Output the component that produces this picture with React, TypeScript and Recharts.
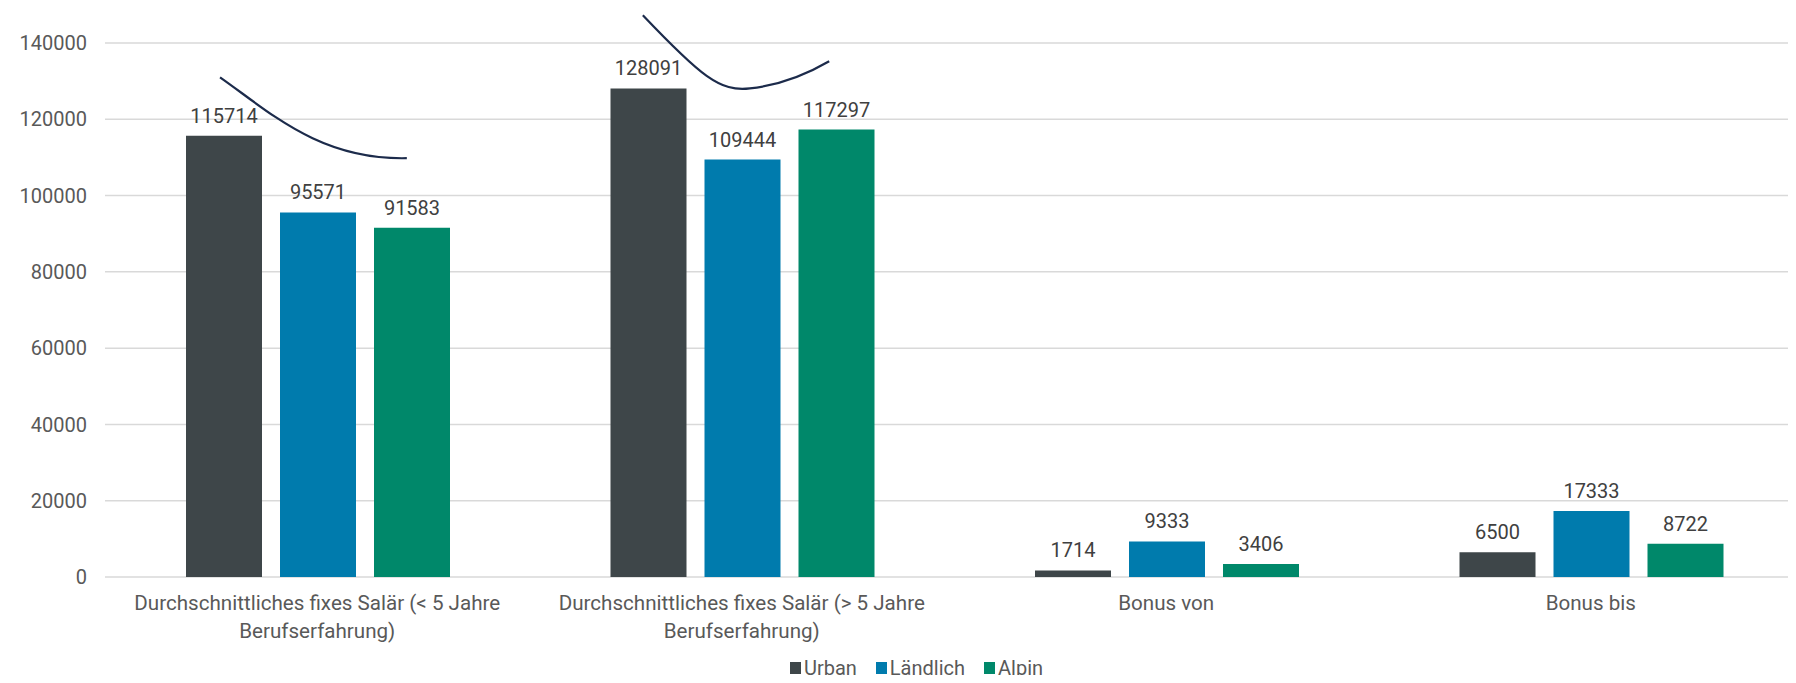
import React from "react";
import {
  Bar,
  BarChart,
  CartesianGrid,
  LabelList,
  Legend,
  XAxis,
  YAxis,
} from "recharts";

const categories = [
  "Durchschnittliches fixes Salär (< 5 Jahre Berufserfahrung)",
  "Durchschnittliches fixes Salär (> 5 Jahre Berufserfahrung)",
  "Bonus von",
  "Bonus bis",
];
const tickLines = [
  ["Durchschnittliches fixes Salär (< 5 Jahre", "Berufserfahrung)"],
  ["Durchschnittliches fixes Salär (> 5 Jahre", "Berufserfahrung)"],
  ["Bonus von"],
  ["Bonus bis"],
];
const urban = [115714, 128091, 1714, 6500];
const laendlich = [95571, 109444, 9333, 17333];
const alpin = [91583, 117297, 3406, 8722];
const yTicks = [0, 20000, 40000, 60000, 80000, 100000, 120000, 140000];

// hand-drawn swooshes over the first two groups: [band units from left, value]
const swooshA = [
  [0.271, 131000],
  [0.389, 121800],
  [0.506, 109300],
  [0.711, 109800],
];
const swooshB = [
  [1.267, 147300],
  [1.402, 131500],
  [1.449, 127100],
  [1.519, 128100],
  [1.59, 128900],
  [1.649, 131500],
  [1.706, 135200],
];

const series = [
  { key: "urban", name: "Urban", color: "#3E4649" },
  { key: "laendlich", name: "Ländlich", color: "#007BAD" },
  { key: "alpin", name: "Alpin", color: "#00886A" },
];

const data = categories.map((name, i) => ({
  name,
  urban: urban[i],
  laendlich: laendlich[i],
  alpin: alpin[i],
}));

const CHART_W = 1810;
const CHART_H = 683;
const MARGIN = { top: 43, right: 7, left: 0, bottom: 0 };
const Y_W = 105;
const X_H = 76;
const LEGEND_H = 30;
const Y_MAX = 140000;

const plotLeft = MARGIN.left + Y_W;
const plotTop = MARGIN.top;
const plotW = CHART_W - MARGIN.left - MARGIN.right - Y_W;
const plotH = CHART_H - MARGIN.top - MARGIN.bottom - X_H - LEGEND_H;
const band = plotW / categories.length;

const toPx = ([u, v]: number[]) =>
  `${plotLeft + u * band} ${plotTop + (1 - v / Y_MAX) * plotH}`;

const swooshPath = (pts: number[][]) =>
  `M ${toPx(pts[0])} C ${pts.slice(1).map(toPx).join(" ")}`;

const FONT = "Roboto, 'Noto Sans', sans-serif";

const CategoryTick = (props: any) => {
  const { x, y, payload } = props;
  const idx = categories.indexOf(payload.value);
  const lines = idx >= 0 ? tickLines[idx] : [String(payload.value)];
  return (
    <text x={x} y={y} textAnchor="middle" fill="#595959" fontSize={20.6} fontFamily={FONT}>
      {lines.map((l, i) => (
        <tspan key={i} x={x} dy={i === 0 ? 33 : 28}>
          {l}
        </tspan>
      ))}
    </text>
  );
};

const renderLegend = () => (
  <div
    style={{
      display: "flex",
      justifyContent: "center",
      alignItems: "center",
      height: 22,
      margin: 0,
      padding: "0 0 0 42px",
      boxSizing: "border-box",
      fontFamily: FONT,
      fontSize: 20,
      lineHeight: "22px",
      color: "#595959",
    }}
  >
    {series.map((s) => (
      <span
        key={s.key}
        style={{ display: "inline-flex", alignItems: "center", marginRight: 19 }}
      >
        <span
          style={{
            display: "inline-block",
            width: 11,
            height: 12,
            background: s.color,
            marginRight: 3,
          }}
        />
        {s.name}
      </span>
    ))}
  </div>
);

export default function App() {
  return (
    <div
      style={{
        position: "relative",
        width: 1796,
        height: 683,
        margin: -8,
        overflow: "hidden",
        background: "#fff",
        fontFamily: FONT,
      }}
    >
      <BarChart
        width={CHART_W}
        height={CHART_H}
        data={data}
        margin={MARGIN}
        barCategoryGap={81}
        barGap={18}
      >
        <CartesianGrid vertical={false} stroke="#D9D9D9" strokeWidth={1.5} />
        <XAxis
          dataKey="name"
          height={X_H}
          axisLine={false}
          tickLine={false}
          tickSize={0}
          tickMargin={0}
          interval={0}
          tick={<CategoryTick />}
        />
        <YAxis
          width={Y_W}
          domain={[0, Y_MAX]}
          ticks={yTicks}
          axisLine={false}
          tickLine={false}
          tickSize={0}
          tickMargin={18}
          tick={{ fill: "#595959", fontSize: 20, fontFamily: FONT }}
        />
        <Legend
          verticalAlign="bottom"
          height={LEGEND_H}
          content={renderLegend}
          wrapperStyle={{ top: 657, bottom: "auto", left: 0, width: CHART_W, height: LEGEND_H }}
        />
        {series.map((s) => (
          <Bar
            key={s.key}
            dataKey={s.key}
            name={s.name}
            fill={s.color}
            isAnimationActive={false}
          >
            <LabelList
              dataKey={s.key}
              position="top"
              offset={13}
              style={{ fill: "#404040", fontSize: 20, fontFamily: FONT }}
            />
          </Bar>
        ))}
      </BarChart>
      <svg
        width={CHART_W}
        height={CHART_H}
        style={{ position: "absolute", left: 0, top: 0, pointerEvents: "none" }}
      >
        <path d={swooshPath(swooshA)} fill="none" stroke="#1C2B4B" strokeWidth={2.2} />
        <path d={swooshPath(swooshB)} fill="none" stroke="#1C2B4B" strokeWidth={2.2} />
      </svg>
    </div>
  );
}
